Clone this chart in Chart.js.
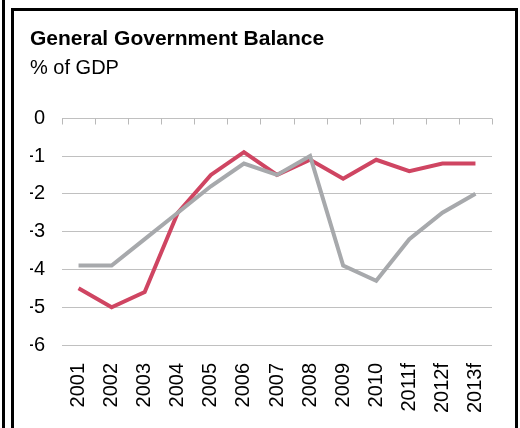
<!DOCTYPE html>
<html>
<head>
<meta charset="utf-8">
<script src="https://cdn.jsdelivr.net/npm/chart.js@4.4.1/dist/chart.umd.min.js"></script>
<style>
  html, body { margin: 0; padding: 0; background: #fff; }
  #wrap { position: relative; width: 520px; height: 428px; overflow: hidden; }
  #wrap canvas { position: absolute; left: 0; top: 0; }
  /* panel frame: thin rule on the far left, open-bottomed box around the chart */
  .rule { position: absolute; left: 2px; top: 0; width: 3px; height: 428px; background: #000; }
  .box { position: absolute; left: 11px; top: 8px; width: 501px; height: 440px;
         border: 3px solid #000; border-bottom: none; }
</style>
</head>
<body>
<div id="wrap">
  <div class="rule"></div>
  <div class="box"></div>
  <canvas id="chart" width="520" height="428"></canvas>
</div>
<script>
  // years, forecasts marked with "f"
  const years = ['2001', '2002', '2003', '2004', '2005', '2006', '2007', '2008', '2009', '2010', '2011f', '2012f', '2013f'];
  const balanceRed = [-4.5, -5.0, -4.6, -2.5, -1.5, -0.9, -1.5, -1.1, -1.6, -1.1, -1.4, -1.2, -1.2];
  const balanceGrey = [-3.9, -3.9, -3.2, -2.5, -1.8, -1.2, -1.5, -1.0, -3.9, -4.3, -3.2, -2.5, -2.0];
  const yTicks = [0, -1, -2, -3, -4, -5, -6];

  const FONT = "'Liberation Sans', Arial, sans-serif";

  // small tick marks hanging down from the zero line at category boundaries
  const zeroTicks = {
    id: 'zeroTicks',
    afterDatasetsDraw(chart) {
      const x = chart.scales.x, y = chart.scales.y;
      const ctx = chart.ctx;
      const y0 = Math.round(y.getPixelForValue(0)) + 0.5;
      ctx.save();
      ctx.strokeStyle = '#b9b9b9';
      ctx.lineWidth = 1;
      ctx.beginPath();
      for (let i = 0; i <= years.length; i++) {
        const px = Math.round(x.getPixelForValue(i - 0.5)) + 0.5;
        ctx.moveTo(px, y0);
        ctx.lineTo(px, y0 + 6);
      }
      ctx.stroke();
      ctx.restore();
    }
  };

  new Chart(document.getElementById('chart'), {
    type: 'line',
    data: {
      labels: years,
      datasets: [{
        data: balanceGrey,
        borderColor: '#a7a9ac',
        borderWidth: 4,
        pointRadius: 0,
        tension: 0
      }, {
        data: balanceRed,
        borderColor: '#cf4562',
        borderWidth: 4,
        pointRadius: 0,
        tension: 0
      }]
    },
    options: {
      responsive: false,
      animation: false,
      layout: { padding: { left: 30, right: 28, top: 0, bottom: 0 } },
      plugins: {
        legend: { display: false },
        tooltip: { enabled: false },
        title: {
          display: true,
          text: 'General Government Balance',
          align: 'start',
          color: '#000',
          font: { family: FONT, size: 21, weight: 'bold' },
          padding: { top: 27, bottom: 4 }
        },
        subtitle: {
          display: true,
          text: '% of GDP',
          align: 'start',
          color: '#000',
          font: { family: FONT, size: 20 },
          padding: { top: 0, bottom: 38 }
        }
      },
      scales: {
        x: {
          offset: true,
          grid: { display: false, drawTicks: false },
          border: { display: false },
          ticks: {
            color: '#000',
            font: { family: FONT, size: 20 },
            minRotation: 90,
            maxRotation: 90,
            padding: 18,
            autoSkip: false
          },
          afterFit(scale) { scale.height = 83; }
        },
        y: {
          min: -6,
          max: 0,
          grid: { color: '#c0c0c0', lineWidth: 1, drawTicks: false },
          border: { display: false },
          ticks: {
            color: '#000',
            font: { family: FONT, size: 20 },
            padding: 17,
            stepSize: 1,
            callback: (v) => yTicks.includes(v) ? String(v) : ''
          },
          afterFit(scale) { scale.width = 32; }
        }
      }
    },
    plugins: [zeroTicks]
  });
</script>
</body>
</html>
